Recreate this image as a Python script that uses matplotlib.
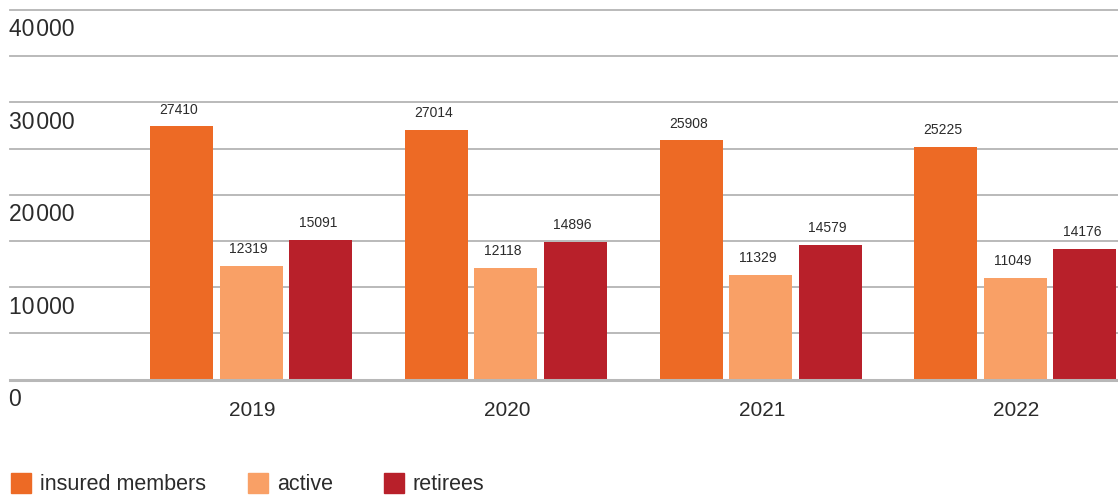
import numpy as np
import matplotlib.pyplot as plt
from matplotlib.patches import Rectangle

plt.rcParams['font.family'] = ['Liberation Sans', 'DejaVu Sans']

years = ['2019', '2020', '2021', '2022']
insured = [27410, 27014, 25908, 25225]
active = [12319, 12118, 11329, 11049]
retirees = [15091, 14896, 14579, 14176]

series_names = ['insured members', 'active', 'retirees']
colors = ['#ED6A25', '#F9A066', '#B8202A']
text_col = '#2b2b2b'
grid_col = '#b4b4b4'

fig = plt.figure(figsize=(11.18, 4.95), dpi=100)
ax = fig.add_axes([10 / 1118, 1 - 379.7 / 495, 1 - 10 / 1118, (379.7 - 10) / 495])

x = np.arange(len(years))
width = 0.247
step = 0.273

for i, (vals, col) in enumerate(zip([insured, active, retirees], colors)):
    pos = x + (i - 1) * step
    ax.bar(pos, vals, width=width, color=col, zorder=3)
    for px, v in zip(pos, vals):
        ax.annotate(str(v), (px, v), xytext=(-2, 7), textcoords='offset points',
                    ha='center', va='bottom', fontsize=10, color=text_col)

ax.set_xlim(-0.947, 3.403)
ax.set_ylim(0, 40000)

# grid lines
for g in range(5000, 40001, 5000):
    ax.axhline(g, color=grid_col, lw=1.3, zorder=1, clip_on=False)
ax.axhline(0, color='#b8b8b8', lw=2.2, zorder=4, clip_on=False)

# y labels sit under their grid line
for g in [0, 10000, 20000, 30000, 40000]:
    lab = '0' if g == 0 else f'{g // 1000}\u200a000'
    ax.annotate(lab, (0, g), xycoords=('axes fraction', 'data'), xytext=(-1, -6),
                textcoords='offset points', ha='left', va='top',
                fontsize=16.5, color=text_col)

ax.set_yticks([])
ax.set_xticks(x + 0.005)
ax.set_xticklabels(years, fontsize=15, color=text_col)
ax.tick_params(axis='x', length=0, pad=15)
for s in ax.spines.values():
    s.set_visible(False)

# legend drawn along the bottom edge
leg_sq = [11, 248, 384]
leg_tx = [40, 277, 412]
for sx, tx, name, col in zip(leg_sq, leg_tx, series_names, colors):
    fig.patches.append(Rectangle((sx / 1118, 2 / 495), 20 / 1118, 20 / 495,
                                 transform=fig.transFigure, color=col))
    fig.text(tx / 1118, 5 / 495, name, fontsize=15.5, color=text_col,
             ha='left', va='baseline')

fig.savefig('out.png', dpi=100)
